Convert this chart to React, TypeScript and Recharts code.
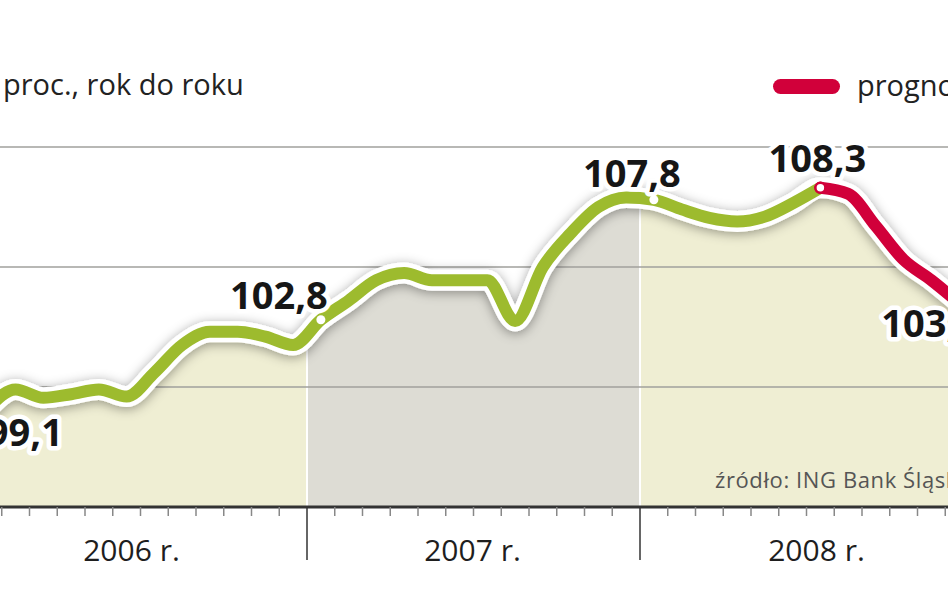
import React from 'react';
import { ComposedChart, Line, Area, XAxis, YAxis, ReferenceArea, ReferenceLine } from 'recharts';

// Monthly data, Jan 2006 .. Dec 2008
const months = [
  '2006-01', '2006-02', '2006-03', '2006-04', '2006-05', '2006-06', '2006-07', '2006-08', '2006-09', '2006-10', '2006-11', '2006-12',
  '2007-01', '2007-02', '2007-03', '2007-04', '2007-05', '2007-06', '2007-07', '2007-08', '2007-09', '2007-10', '2007-11', '2007-12',
  '2008-01', '2008-02', '2008-03', '2008-04', '2008-05', '2008-06', '2008-07', '2008-08', '2008-09', '2008-10', '2008-11', '2008-12',
];
// actual values Jan 2006 .. Jul 2008
const actualValues = [
  99.1, 99.9, 99.55, 99.7, 99.9, 99.6, 100.6, 101.75, 102.3, 102.3, 102.1, 101.75,
  102.8, 103.6, 104.45, 104.75, 104.45, 104.45, 104.45, 102.75, 105.0, 106.4, 107.5, 107.9,
  107.8, 107.4, 107.05, 106.9, 107.1, 107.65, 108.3,
];
// forecast Jul 2008 .. Dec 2008
const forecastValues = [108.3, 108.05, 106.7, 105.3, 104.45, 103.5];
const forecastStart = 30;
const years = ['2006 r.', '2007 r.', '2008 r.'];
const gridValues = [100, 105, 110];
const yDomain = [95, 115];
const labeledMonths = ['2006-01', '2007-01', '2008-01', '2008-07', '2008-12'];

// label placement relative to its point (dx, dy of text centre / baseline)
const labelOffsets: Record<string, [number, number]> = {
  '2006-01': [37, 37],
  '2007-01': [-42, -11],
  '2008-01': [-22, -13],
  '2008-07': [-3, -16],
  '2008-12': [-29, 34],
};
// horizontal nudge of the year captions
const yearLabelShift = [-9, -1, 10];

const rows = months.map((m, i) => ({
  m,
  t: i + 0.5,
  actual: i < actualValues.length ? actualValues[i] : null,
  forecast: i >= forecastStart ? forecastValues[i - forecastStart] : null,
  all: i < actualValues.length ? actualValues[i] : forecastValues[i - forecastStart],
}));

const monthTicks = Array.from({ length: months.length + 1 }, (_, i) => i);

const GREEN = '#9dbb2e';
const RED = '#d1003a';
const BEIGE = '#efeed3';
const GRAY = '#dddcd4';

const AxisTick = (props: any) => {
  const { x, y, payload } = props;
  const t = payload.value as number;
  const major = t % 12 === 0;
  const yi = Math.floor(t / 12);
  return (
    <g>
      <line x1={x} x2={x} y1={y} y2={y + (major ? 53 : 9)} stroke={major ? '#333' : '#888'} strokeWidth={1.5} />
      {t % 12 === 6 && yi < years.length ? (
        <text x={x + yearLabelShift[yi]} y={y + 54} textAnchor="middle" fontFamily="'Open Sans', sans-serif" fontSize={30} fill="#1e1e1e">
          {years[yi]}
        </text>
      ) : null}
    </g>
  );
};

const renderDot = (p: any) => {
  const { cx, cy, index } = p;
  const m = months[index];
  if (!labeledMonths.includes(m) || cx == null) return <g key={`d${index}`} />;
  if (index === forecastStart) {
    return <circle key={`d${index}`} cx={cx} cy={cy} r={5} fill="#fff" stroke={RED} strokeWidth={2.5} />;
  }
  return <circle key={`d${index}`} cx={cx} cy={cy} r={4.5} fill="#fff" />;
};

const renderLabel = (p: any) => {
  const { x, y, index, value } = p;
  const m = months[index];
  if (!labeledMonths.includes(m) || x == null) return <g key={`l${index}`} />;
  const [dx, dy] = labelOffsets[m];
  const txt = Number(value).toFixed(1).replace('.', ',');
  return (
    <text
      key={`l${index}`}
      x={x + dx}
      y={y + dy}
      textAnchor="middle"
      fontFamily="'Open Sans', sans-serif"
      fontWeight={700}
      fontSize={38}
      fill="#161616"
      stroke="#fff"
      strokeWidth={9}
      strokeLinejoin="round"
      paintOrder="stroke"
    >
      {txt}
    </text>
  );
};

export default function App() {
  return (
    <div style={{ position: 'absolute', left: 0, top: 0, width: 948, height: 593, overflow: 'hidden', background: '#fff' }}>
      <svg width={0} height={0} style={{ position: 'absolute' }}>
        <defs>
          <filter id="lineShadow" x="-10%" y="-50%" width="120%" height="200%">
            <feDropShadow dx="0" dy="2" stdDeviation="6" floodColor="#000" floodOpacity="0.38" />
          </filter>
        </defs>
      </svg>
      <div style={{ position: 'absolute', left: -26, top: 0 }}>
        <ComposedChart width={999} height={593} data={rows} margin={{ top: 27, right: 0, bottom: 0, left: 0 }}>
          <XAxis
            dataKey="t"
            type="number"
            domain={[0, months.length]}
            ticks={monthTicks}
            interval={0}
            tickSize={0}
            tickMargin={0}
            tickLine={false}
            height={86}
            axisLine={{ stroke: '#333', strokeWidth: 3 }}
            tick={<AxisTick />}
          />
          <YAxis hide type="number" domain={yDomain} allowDataOverflow />
          {years.map((y, i) => (
            <ReferenceArea
              key={y}
              x1={i * 12}
              x2={(i + 1) * 12}
              y1={yDomain[0]}
              y2={yDomain[1]}
              fill={i === 1 ? GRAY : BEIGE}
              fillOpacity={1}
              stroke="#fff"
              strokeWidth={2}
            />
          ))}
          <Area
            dataKey="all"
            type="monotone"
            baseValue={yDomain[1]}
            fill="#fff"
            fillOpacity={1}
            stroke="none"
            isAnimationActive={false}
            dot={false}
            activeDot={false}
          />
          {gridValues.map((v) => (
            <ReferenceLine key={v} y={v} stroke="#a0a09c" strokeWidth={1.5} />
          ))}
          <Line
            dataKey="all"
            type="monotone"
            stroke="#fff"
            strokeWidth={21}
            strokeLinecap="round"
            strokeLinejoin="round"
            filter="url(#lineShadow)"
            dot={false}
            activeDot={false}
            isAnimationActive={false}
          />
          <Line
            dataKey="actual"
            type="monotone"
            stroke={GREEN}
            strokeWidth={12}
            strokeLinecap="round"
            strokeLinejoin="round"
            dot={false}
            activeDot={false}
            isAnimationActive={false}
          />
          <Line
            dataKey="forecast"
            type="monotone"
            stroke={RED}
            strokeWidth={12}
            strokeLinecap="round"
            strokeLinejoin="round"
            dot={false}
            activeDot={false}
            isAnimationActive={false}
          />
          <Line
            dataKey="all"
            type="monotone"
            stroke="none"
            dot={renderDot}
            activeDot={false}
            label={renderLabel}
            isAnimationActive={false}
          />
        </ComposedChart>
      </div>
      <svg width={948} height={593} style={{ position: 'absolute', left: 0, top: 0, pointerEvents: 'none' }}>
        <text x={3} y={95} fontFamily="'Open Sans', sans-serif" fontSize={29} fill="#222">
          proc., rok do roku
        </text>
        <rect x={773} y={79} width={67} height={15} rx={7.5} fill={RED} />
        <text x={857} y={96} fontFamily="'Open Sans', sans-serif" fontSize={29} fill="#222">
          prognoza
        </text>
        <text x={715} y={488} fontFamily="'Open Sans', sans-serif" fontSize={22} letterSpacing={0.6} fill="#555">
          źródło: ING Bank Śląski
        </text>
      </svg>
    </div>
  );
}
